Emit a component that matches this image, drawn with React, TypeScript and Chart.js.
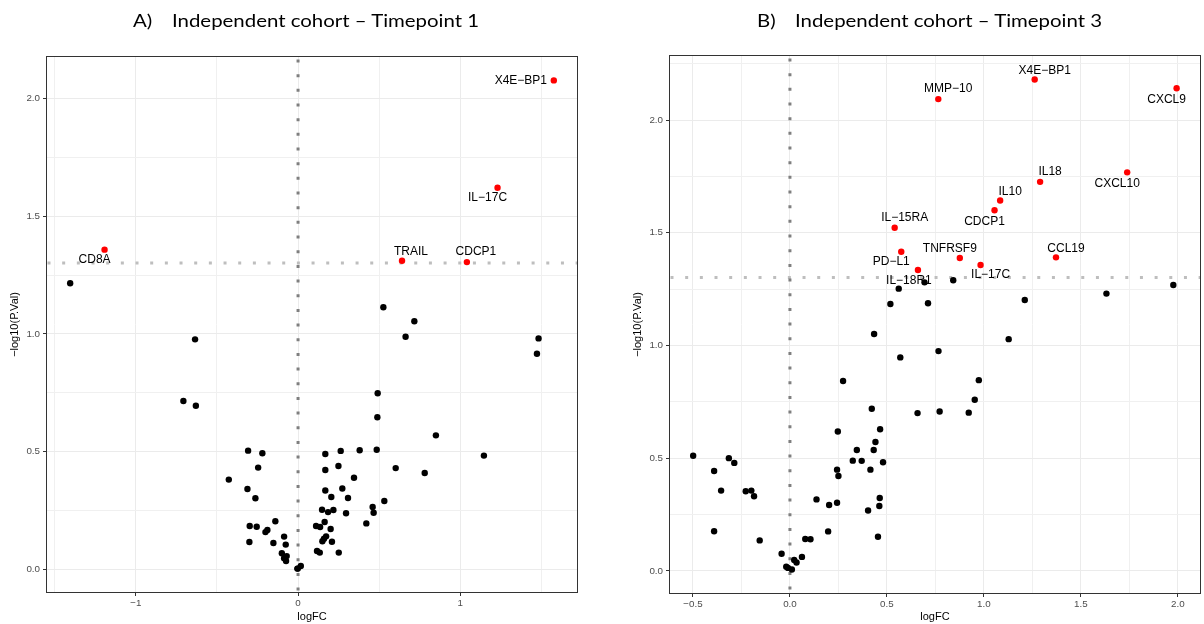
import React, { useEffect, useRef } from "react";
import { Chart, registerables } from "chart.js";

Chart.register(...registerables);

// ---------- Panel A (Timepoint 1) ----------
const aSigNames = ["CD8A", "TRAIL", "CDCP1", "IL\u221217C", "X4E\u2212BP1"];
const aSigLogFC = [-1.193, 0.641, 1.041, 1.23, 1.577];
const aSigNegLogP = [1.358, 1.311, 1.305, 1.621, 2.077];

const aLogFC = [
  -1.405, -0.635, -0.707, -0.63, -0.308, -0.22, -0.246, -0.427, -0.312, -0.263,
  -0.14, -0.298, -0.255, -0.201, -0.189, -0.3, -0.152, -0.086, -0.076, -0.1,
  -0.07, -0.086, -0.074, -0.002, 0.526, 0.717, 0.663, 1.483, 1.473, 0.491,
  0.489, 0.85, 1.146, 0.168, 0.263, 0.38, 0.485, 0.168, 0.249, 0.602,
  0.781, 0.345, 0.168, 0.273, 0.205, 0.308, 0.532, 0.148, 0.185, 0.218,
  0.296, 0.46, 0.466, 0.164, 0.111, 0.136, 0.201, 0.421, 0.173, 0.16,
  0.15, 0.209, 0.117, 0.134, 0.251, -0.004, 0.017,
];
const aNegLogP = [
  1.215, 0.977, 0.715, 0.695, 0.504, 0.493, 0.432, 0.381, 0.341, 0.302,
  0.204, 0.184, 0.181, 0.158, 0.167, 0.116, 0.112, 0.139, 0.105, 0.068,
  0.056, 0.047, 0.035, 0.003, 1.113, 1.054, 0.988, 0.981, 0.916, 0.748,
  0.646, 0.569, 0.483, 0.49, 0.503, 0.506, 0.508, 0.422, 0.439, 0.43,
  0.409, 0.389, 0.335, 0.343, 0.307, 0.303, 0.29, 0.253, 0.243, 0.252,
  0.238, 0.265, 0.24, 0.201, 0.184, 0.18, 0.171, 0.195, 0.14, 0.13,
  0.119, 0.117, 0.078, 0.071, 0.071, 0.003, 0.014,
];

// ---------- Panel B (Timepoint 3) ----------
const bSigNames = [
  "MMP\u221210", "X4E\u2212BP1", "CXCL9", "CXCL10", "IL18", "IL10", "CDCP1",
  "IL\u221215RA", "PD\u2212L1", "TNFRSF9", "IL\u221217C", "IL\u221218R1", "CCL19",
];
const bSigLogFC = [0.765, 1.262, 1.994, 1.739, 1.29, 1.084, 1.055, 0.54, 0.574, 0.876, 0.983, 0.66, 1.372];
const bSigNegLogP = [2.093, 2.18, 2.141, 1.768, 1.726, 1.643, 1.6, 1.522, 1.416, 1.388, 1.357, 1.335, 1.391];

const bLogFC = [
  0.842, 0.694, 0.561, 0.518, 0.712, 1.211, 1.632, 1.977, 0.434, 0.569,
  0.274, 0.422, 0.247, 0.465, 0.441, 0.345, 0.432, 0.324, 0.37, 0.48,
  0.415, 0.243, 0.25, 0.463, 0.461, 0.243, 0.202, 0.403, 0.137, 0.197,
  0.454, 0.079, 0.106, -0.043, 0.062, 0.022, 0.034, -0.019, -0.01, 0.01,
  -0.499, -0.391, -0.315, -0.287, -0.355, -0.228, -0.199, -0.185, -0.391, -0.156,
  1.128, 0.766, 0.974, 0.953, 0.658, 0.772, 0.922,
];
const bNegLogP = [
  1.289, 1.28, 1.252, 1.184, 1.187, 1.202, 1.23, 1.268, 1.051, 0.947,
  0.842, 0.719, 0.618, 0.628, 0.572, 0.536, 0.536, 0.489, 0.488, 0.482,
  0.449, 0.449, 0.421, 0.323, 0.288, 0.302, 0.292, 0.268, 0.317, 0.175,
  0.151, 0.141, 0.14, 0.076, 0.062, 0.048, 0.037, 0.018, 0.013, 0.006,
  0.511, 0.443, 0.5, 0.479, 0.356, 0.353, 0.356, 0.331, 0.176, 0.135,
  1.028, 0.975, 0.846, 0.759, 0.7, 0.707, 0.702,
];

// ---------- Tick values ----------
const aXMajor = [-1, 0, 1];
const aXMinor = [-1.5, -0.5, 0.5, 1.5];
const bXMajor = [-0.5, 0, 0.5, 1, 1.5, 2];
const bXMinor = [-0.25, 0.25, 0.75, 1.25, 1.75];
const yMajor = [0, 0.5, 1, 1.5, 2];
const yMinor = [0.25, 0.75, 1.25, 1.75, 2.25];

const pThreshold = -Math.log10(0.05);

// label offsets in pixels (layout only)
const aLabelOffsets = [[-10, 10], [9, -9], [9, -10], [-10, 10], [-33, 0]];
const bLabelOffsets = [
  [10, -10], [10, -9], [-10, 11], [-10, 11], [10, -10], [10, -9], [-10, 11],
  [10, -10], [-10, 10], [-10, -9], [10, 10], [-9, 11], [10, -9],
];

const FONT = "'Liberation Sans', Arial, sans-serif";

function expand(vals: number[]) {
  const mn = Math.min(...vals);
  const mx = Math.max(...vals);
  const r = mx - mn;
  return [mn - 0.05 * r, mx + 0.05 * r];
}

const isIn = (v: number, arr: number[]) => arr.some((a) => Math.abs(a - v) < 1e-9);
const fmtMinus = (s: string) => s.replace("-", "\u2212");

type PanelCfg = {
  fc: number[];
  p: number[];
  sigFc: number[];
  sigP: number[];
  sigNames: string[];
  offsets: number[][];
  xMajor: number[];
  xMinor: number[];
  xDigits: number;
  pad: { left: number; top: number; right: number; bottom: number };
  yAxisWidth: number;
  xAxisHeight: number;
  yTitlePad: number;
};

function buildChart(canvas: HTMLCanvasElement, c: PanelCfg) {
  const allX = [...c.fc, ...c.sigFc];
  const allY = [...c.p, ...c.sigP];
  const [xMin, xMax] = expand(allX);
  const [yMin, yMax] = expand(allY);

  const xTicks = [...c.xMajor, ...c.xMinor].filter((v) => v >= xMin && v <= xMax).sort((a, b) => a - b);
  const yTicks = [...yMajor, ...yMinor].filter((v) => v >= yMin && v <= yMax).sort((a, b) => a - b);

  const gridColor = (major: number[]) => (ctx: any) =>
    ctx.tick && isIn(ctx.tick.value, major) ? "#EBEBEB" : "#F0F0F0";
  const tickColor = (major: number[]) => (ctx: any) =>
    ctx.tick && isIn(ctx.tick.value, major) ? "#333333" : "rgba(0,0,0,0)";

  const refLines = {
    id: "refLines",
    beforeDatasetsDraw(chart: any) {
      const { ctx, chartArea: a, scales } = chart;
      ctx.save();
      ctx.beginPath();
      ctx.rect(a.left, a.top, a.right - a.left, a.bottom - a.top);
      ctx.clip();
      ctx.lineWidth = 3;
      ctx.setLineDash([3, 11.67]);
      const y = scales.y.getPixelForValue(pThreshold);
      ctx.strokeStyle = "#BEBEBE";
      ctx.lineDashOffset = -1.5;
      ctx.beginPath();
      ctx.moveTo(a.left, y);
      ctx.lineTo(a.right, y);
      ctx.stroke();
      const x = scales.x.getPixelForValue(0);
      ctx.strokeStyle = "#7F7F7F";
      ctx.lineDashOffset = -3.5;
      ctx.beginPath();
      ctx.moveTo(x, a.top);
      ctx.lineTo(x, a.bottom);
      ctx.stroke();
      ctx.restore();
    },
  };

  const frameAndLabels = {
    id: "frameAndLabels",
    afterDatasetsDraw(chart: any) {
      const { ctx, chartArea: a, scales } = chart;
      ctx.save();
      ctx.font = `12px ${FONT}`;
      ctx.fillStyle = "#000000";
      ctx.textAlign = "center";
      ctx.textBaseline = "middle";
      c.sigNames.forEach((name, i) => {
        const px = scales.x.getPixelForValue(c.sigFc[i]);
        const py = scales.y.getPixelForValue(c.sigP[i]);
        const [dx, dy] = c.offsets[i];
        ctx.fillText(name, px + dx, py + dy);
      });
      ctx.strokeStyle = "#333333";
      ctx.lineWidth = 1;
      ctx.setLineDash([]);
      ctx.strokeRect(Math.round(a.left) + 0.5, Math.round(a.top) + 0.5, Math.round(a.right - a.left) - 1, Math.round(a.bottom - a.top) - 1);
      ctx.restore();
    },
  };

  return new Chart(canvas, {
    type: "scatter",
    data: {
      datasets: [
        {
          data: c.fc.map((v, i) => ({ x: v, y: c.p[i] })),
          backgroundColor: "#000000",
          pointRadius: 3.2,
          pointBorderWidth: 0,
          pointHoverRadius: 3.2,
        },
        {
          data: c.sigFc.map((v, i) => ({ x: v, y: c.sigP[i] })),
          backgroundColor: "#FF0000",
          pointRadius: 3.2,
          pointBorderWidth: 0,
          pointHoverRadius: 3.2,
        },
      ],
    },
    options: {
      animation: false,
      responsive: false,
      devicePixelRatio: 1,
      events: [],
      layout: { padding: c.pad },
      plugins: { legend: { display: false }, tooltip: { enabled: false } },
      scales: {
        x: {
          type: "linear",
          min: xMin,
          max: xMax,
          afterBuildTicks: (s: any) => {
            s.ticks = xTicks.map((v) => ({ value: v }));
          },
          afterFit: (s: any) => {
            s.height = c.xAxisHeight;
          },
          border: { display: false },
          grid: {
            color: gridColor(c.xMajor),
            lineWidth: 1,
            tickLength: 3,
            tickColor: tickColor(c.xMajor),
            tickWidth: 1,
          },
          ticks: {
            autoSkip: false,
            maxRotation: 0,
            padding: 1,
            color: "#4D4D4D",
            font: { family: FONT, size: 9.8 },
            callback: (v: any) => (isIn(Number(v), c.xMajor) ? fmtMinus(Number(v).toFixed(c.xDigits)) : ""),
          },
          title: {
            display: true,
            text: "logFC",
            color: "#000000",
            font: { family: FONT, size: 11 },
            padding: { top: 0, bottom: 0 },
          },
        },
        y: {
          type: "linear",
          min: yMin,
          max: yMax,
          afterBuildTicks: (s: any) => {
            s.ticks = yTicks.map((v) => ({ value: v }));
          },
          afterFit: (s: any) => {
            s.width = c.yAxisWidth;
          },
          border: { display: false },
          grid: {
            color: gridColor(yMajor),
            lineWidth: 1,
            tickLength: 3,
            tickColor: tickColor(yMajor),
            tickWidth: 1,
          },
          ticks: {
            autoSkip: false,
            padding: 3,
            color: "#4D4D4D",
            font: { family: FONT, size: 9.8 },
            callback: (v: any) => (isIn(Number(v), yMajor) ? Number(v).toFixed(1) : ""),
          },
          title: {
            display: true,
            text: "\u2212log10(P.Val)",
            color: "#000000",
            font: { family: FONT, size: 11 },
            padding: { top: c.yTitlePad, bottom: 0 },
          },
        },
      },
    },
    plugins: [refLines, frameAndLabels],
  } as any);
}

function Panel({ cfg, left }: { cfg: PanelCfg; left: number }) {
  const ref = useRef<HTMLCanvasElement | null>(null);
  useEffect(() => {
    if (!ref.current) return;
    const chart = buildChart(ref.current, cfg);
    return () => chart.destroy();
  }, [cfg]);
  return (
    <canvas
      ref={ref}
      width={602}
      height={624}
      style={{ position: "absolute", left, top: 0, width: 602, height: 624 }}
    />
  );
}

const panelA: PanelCfg = {
  fc: aLogFC,
  p: aNegLogP,
  sigFc: aSigLogFC,
  sigP: aSigNegLogP,
  sigNames: aSigNames,
  offsets: aLabelOffsets,
  xMajor: aXMajor,
  xMinor: aXMinor,
  xDigits: 0,
  pad: { left: 0, top: 56, right: 24, bottom: 0 },
  yAxisWidth: 46,
  xAxisHeight: 31,
  yTitlePad: 8.4,
};

const panelB: PanelCfg = {
  fc: bLogFC,
  p: bNegLogP,
  sigFc: bSigLogFC,
  sigP: bSigNegLogP,
  sigNames: bSigNames,
  offsets: bLabelOffsets,
  xMajor: bXMajor,
  xMinor: bXMinor,
  xDigits: 1,
  pad: { left: 0, top: 55, right: 1, bottom: 0 },
  yAxisWidth: 67,
  xAxisHeight: 30,
  yTitlePad: 29.4,
};

const titleStyle: React.CSSProperties = {
  position: "absolute",
  top: 9,
  fontFamily: "Lato, 'Open Sans', sans-serif",
  fontSize: 17,
  lineHeight: "24px",
  color: "#000000",
  whiteSpace: "nowrap",
  transform: "scaleX(1.2)",
  transformOrigin: "0 50%",
};

export default function App() {
  return (
    <div
      style={{
        position: "fixed",
        left: 0,
        top: 0,
        width: 1204,
        height: 624,
        background: "#FFFFFF",
        overflow: "hidden",
      }}
    >
      <Panel cfg={panelA} left={0} />
      <Panel cfg={panelB} left={602} />
      <div style={{ ...titleStyle, left: 133 }}>A)</div>
      <div style={{ ...titleStyle, left: 171.5 }}>Independent cohort – Timepoint 1</div>
      <div style={{ ...titleStyle, left: 757 }}>B)</div>
      <div style={{ ...titleStyle, left: 795 }}>Independent cohort – Timepoint 3</div>
    </div>
  );
}
